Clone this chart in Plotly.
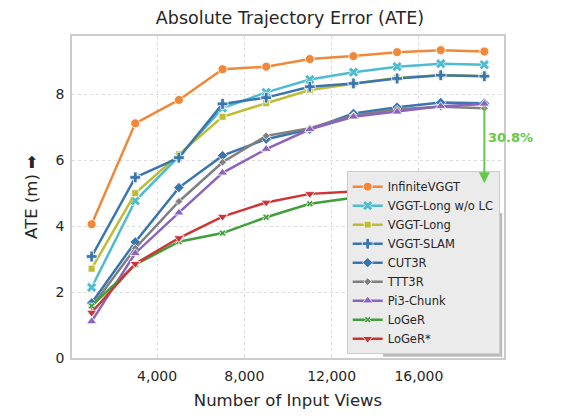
import plotly.graph_objects as go

# Number of input views
views = [1000, 3000, 5000, 7000, 9000, 11000, 13000, 15000, 17000, 19000]

# ATE (m) per method
infinite_vggt = [4.06, 7.12, 7.83, 8.76, 8.84, 9.07, 9.16, 9.28, 9.34, 9.30]
vggt_long_wo_lc = [2.14, 4.77, 6.12, 7.58, 8.06, 8.45, 8.67, 8.84, 8.93, 8.90]
vggt_long = [2.71, 5.00, 6.18, 7.32, 7.73, 8.13, 8.32, 8.50, 8.58, 8.56]
vggt_slam = [3.08, 5.48, 6.08, 7.71, 7.90, 8.23, 8.33, 8.48, 8.58, 8.55]
cut3r = [1.67, 3.52, 5.17, 6.14, 6.64, 6.94, 7.42, 7.61, 7.75, 7.73]
ttt3r = [1.55, 3.33, 4.75, 5.94, 6.74, 6.97, 7.36, 7.55, 7.62, 7.58]
pi3_chunk = [1.11, 3.18, 4.41, 5.62, 6.34, 6.94, 7.32, 7.47, 7.64, 7.71]
loger = [1.58, 2.83, 3.53, 3.79, 4.27, 4.68, 4.86, 4.90, 5.27, 5.37]
loger_star = [1.38, 2.86, 3.64, 4.29, 4.72, 4.98, 5.05, 5.22, 5.25, 5.25]

gain_label = "30.8%"

series = [
    ("InfiniteVGGT", infinite_vggt, "#f0883a", "circle", 9),
    ("VGGT-Long w/o LC", vggt_long_wo_lc, "#4dbbd0", "x", 9),
    ("VGGT-Long", vggt_long, "#bcbd32", "square", 7),
    ("VGGT-SLAM", vggt_slam, "#3a75b0", "cross", 9),
    ("CUT3R", cut3r, "#3a75b0", "diamond", 8),
    ("TTT3R", ttt3r, "#7f7f7f", "diamond", 6),
    ("Pi3-Chunk", pi3_chunk, "#8c64be", "triangle-up", 9),
    ("LoGeR", loger, "#3fa03a", "x", 6),
    ("LoGeR*", loger_star, "#cc3535", "triangle-down", 9),
]

fig = go.Figure()
for name, vals, color, symbol, size in series:
    fig.add_trace(go.Scatter(
        x=views, y=vals, name=name, mode="lines+markers",
        line=dict(color=color, width=2.5),
        marker=dict(symbol=symbol, size=size, color=color,
                    line=dict(color="white", width=0.8)),
    ))

# Improvement arrow from Pi3-Chunk down to LoGeR*
fig.add_annotation(
    x=views[-1], y=loger_star[-1] + 0.05, ax=views[-1], ay=pi3_chunk[-1] - 0.05,
    xref="x", yref="y", axref="x", ayref="y",
    showarrow=True, arrowhead=2, arrowsize=1.1, arrowwidth=2, arrowcolor="#66c84a",
    text="",
)
fig.add_annotation(
    x=views[-1], y=(pi3_chunk[-1] + loger_star[-1]) / 2 + 0.2, xref="x", yref="y",
    text="<b>" + gain_label + "</b>", showarrow=False, xanchor="left", xshift=2,
    font=dict(color="#66c84a", size=13),
)

# legend drop shadow
fig.add_shape(type="rect", xref="paper", yref="paper",
              x0=0.72, x1=0.996, y0=0.004, y1=0.45,
              fillcolor="#bcbcbc", line=dict(width=0), layer="above")

fig.update_layout(
    width=564, height=418,
    margin=dict(l=64, r=68, t=28, b=68, autoexpand=False),
    paper_bgcolor="white", plot_bgcolor="white",
    font=dict(family="DejaVu Sans", color="#262626", size=14),
    title=dict(text="Absolute Trajectory Error (ATE)", x=0.5, xanchor="center",
               y=0.976, yanchor="middle", font=dict(size=17.5)),
    legend=dict(x=0.99, y=0.012, xanchor="right", yanchor="bottom",
                bgcolor="#ebebeb", bordercolor="#cccccc", borderwidth=1,
                font=dict(size=11.5), tracegroupgap=0, itemwidth=30),
    showlegend=True,
)
fig.update_xaxes(
    range=[100, 19900], tickvals=[4000, 8000, 12000, 16000],
    ticktext=["4,000", "8,000", "12,000", "16,000"],
    title=dict(text="Number of Input Views", font=dict(size=16.5), standoff=12),
    showgrid=True, gridcolor="#dddddd", griddash="dot", gridwidth=1,
    showline=True, linecolor="#cccccc", linewidth=1.5, mirror=True,
    zeroline=False, ticks="", automargin=False, ticklabelstandoff=4,
)
fig.update_yaxes(
    range=[0, 9.77], tickvals=[0, 2, 4, 6, 8],
    title=dict(text="ATE (m) ➡", font=dict(size=16.5), standoff=14),
    showgrid=True, gridcolor="#dddddd", griddash="dot", gridwidth=1,
    showline=True, linecolor="#cccccc", linewidth=1.5, mirror=True,
    zeroline=False, ticks="", automargin=False, ticklabelstandoff=3,
)

fig.write_html("out.html")
